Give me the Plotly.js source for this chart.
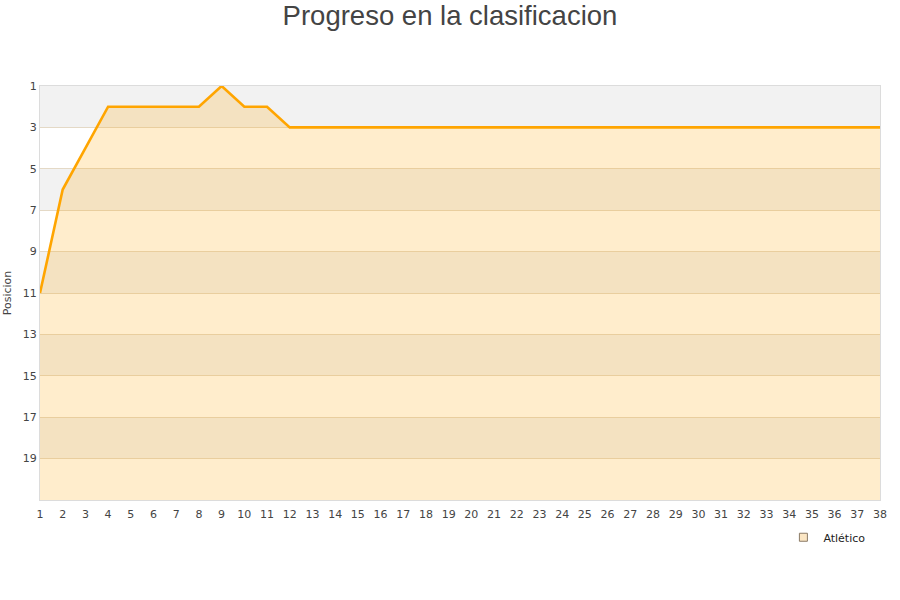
<!DOCTYPE html>
<html>
<head>
<meta charset="utf-8">
<script src="https://cdn.plot.ly/plotly-3.0.1.min.js"></script>
<style>html,body{margin:0;padding:0;background:#fff}#chart{width:900px;height:600px}</style>
</head>
<body>
<div id="chart"></div>
<script>
const jornadas = [1,2,3,4,5,6,7,8,9,10,11,12,13,14,15,16,17,18,19,20,21,22,23,24,25,26,27,28,29,30,31,32,33,34,35,36,37,38];
const posiciones = [11,6,4,2,2,2,2,2,1,2,2,3,3,3,3,3,3,3,3,3,3,3,3,3,3,3,3,3,3,3,3,3,3,3,3,3,3,3];
const equipo = "Atlético";
const yTicks = [1,3,5,7,9,11,13,15,17,19];
const numEquipos = 21;
const titulo = "Progreso en la clasificacion";
const yTitulo = "Posicion";

const baseline = jornadas.map(() => numEquipos);

const shapes = [];
for (let i = 0; i < yTicks.length; i += 2) {
  shapes.push({
    type: 'rect', xref: 'paper', yref: 'y', x0: 0, x1: 1,
    y0: yTicks[i], y1: yTicks[i] + 2,
    fillcolor: '#f2f2f2', line: {width: 0}, layer: 'below'
  });
}

const traces = [
  {x: jornadas, y: baseline, mode: 'lines', line: {width: 0, color: 'rgba(0,0,0,0)'}, showlegend: false, hoverinfo: 'skip'},
  {x: jornadas, y: posiciones, mode: 'lines', fill: 'tonexty', fillcolor: 'rgba(255,165,0,0.2)',
   line: {color: '#ffa500', width: 2.6}, showlegend: false, name: equipo},
  {x: [null], y: [null], mode: 'markers', name: equipo,
   marker: {symbol: 'square', size: 8, color: '#fbe6c4', line: {color: '#8a7a66', width: 1}}}
];

const layout = {
  width: 900, height: 600,
  margin: {l: 40, r: 20, t: 86, b: 100},
  paper_bgcolor: '#ffffff', plot_bgcolor: '#ffffff',
  title: {text: titulo, font: {family: 'Liberation Sans, Arial, sans-serif', size: 27.5, color: '#444'},
          x: 0.5, xanchor: 'center', y: 0.975, yanchor: 'middle', yref: 'container'},
  shapes: shapes,
  xaxis: {
    range: [1, 38], tickvals: jornadas, ticktext: jornadas.map(String),
    showgrid: false, zeroline: false, showline: true, linecolor: '#dcdcdc', linewidth: 1, mirror: true,
    ticks: '', ticklen: 0, tickangle: 0, ticklabelstandoff: 4,
    tickfont: {family: 'DejaVu Sans, sans-serif', size: 11, color: '#444'}
  },
  yaxis: {
    range: [numEquipos, 1], tickvals: yTicks,
    showgrid: true, gridcolor: '#e4d9c6', gridwidth: 1, zeroline: false,
    showline: true, linecolor: '#dcdcdc', linewidth: 1, mirror: true, ticks: '',
    tickfont: {family: 'DejaVu Sans, sans-serif', size: 11, color: '#444'},
    title: {text: yTitulo, font: {family: 'DejaVu Sans, sans-serif', size: 11, color: '#444'}, standoff: 8}
  },
  showlegend: true,
  legend: {x: 0.885, y: -0.09, xanchor: 'left', yanchor: 'middle', orientation: 'h',
           font: {family: 'DejaVu Sans, sans-serif', size: 11, color: '#222'}, bgcolor: 'rgba(0,0,0,0)'}
};

Plotly.newPlot('chart', traces, layout, {displayModeBar: false, staticPlot: true});
</script>
</body>
</html>
